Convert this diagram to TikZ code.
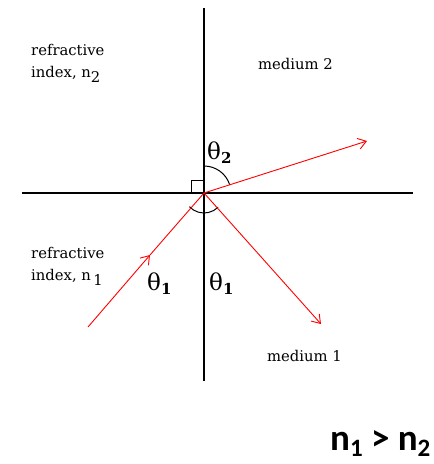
\documentclass[tikz,border=0pt]{standalone}
\usepackage{fontspec}
\setmainfont{DejaVu Serif}
\newfontfamily\calib{Carlito}
\usetikzlibrary{arrows.meta}
\begin{document}
\begin{tikzpicture}[x=1pt,y=-1pt,
  axis/.style={line width=1.4pt,black},
  ray/.style={red,line width=0.9pt},
  tip/.style={-{Straight Barb[length=8pt,width=11pt,line width=0.9pt]}},
  lbl/.style={font=\fontsize{14.8}{16}\selectfont,inner sep=0pt,anchor=west},
  ang/.style={font=\fontsize{23}{26}\selectfont,inner sep=0pt,anchor=west}]
\useasboundingbox (0,0) rectangle (434,464);
\coordinate (O) at (204,193);
\coordinate (top) at (204,8);
\coordinate (bot) at (204,381);
\coordinate (left) at (22,193);
\coordinate (right) at (413,193);
\coordinate (inc) at (88,327);
\coordinate (incmid) at (150,255);
\coordinate (refl) at (321,324);
\coordinate (refr) at (367,141);
\draw[axis] (top) -- (bot);
\draw[axis] (left) -- (right);
% right angle box
\draw[line width=1pt] (191,193) -- (191,180) -- (204,180);
% angle arcs
\draw[line width=1pt] (O) ++(-90:27) arc[start angle=-90,end angle=-18,radius=27];
\draw[line width=1pt] (O) ++(137:20) arc[start angle=137,end angle=45,radius=20];
% rays
\draw[ray,tip] (inc) -- (incmid);
\draw[ray] (incmid) -- (O);
\draw[ray,tip] (O) -- (refl);
\draw[ray,tip] (O) -- (refr);
% labels
\node[lbl] (t1) at (31,50) {refractive};
\node[lbl] (t2) at (31,74) {index, n\raisebox{-5pt}{2}};
\node[lbl] (t3) at (258,64) {medium 2};
\node[lbl] (t4) at (31,253) {refractive};
\node[lbl] (t5) at (31,277) {index, n\,\raisebox{-5pt}{1}};
\node[lbl] (t6) at (267,356) {medium 1};
\node[ang] (a2) at (207,153) {θ\raisebox{-4pt}{\fontsize{15}{15}\selectfont\bfseries 2}};
\node[ang] (a1) at (147,284) {θ\raisebox{-4pt}{\fontsize{15}{15}\selectfont\bfseries 1}};
\node[ang] (a3) at (209,284) {θ\raisebox{-4pt}{\fontsize{15}{15}\selectfont\bfseries 1}};
\node[inner sep=0pt,anchor=base west,font=\calib\bfseries\fontsize{37}{40}\selectfont] (ineq) at (330,450) {n\raisebox{-6pt}{\fontsize{25}{25}\selectfont 1} > n\raisebox{-6pt}{\fontsize{25}{25}\selectfont 2}};
\end{tikzpicture}
\end{document}
